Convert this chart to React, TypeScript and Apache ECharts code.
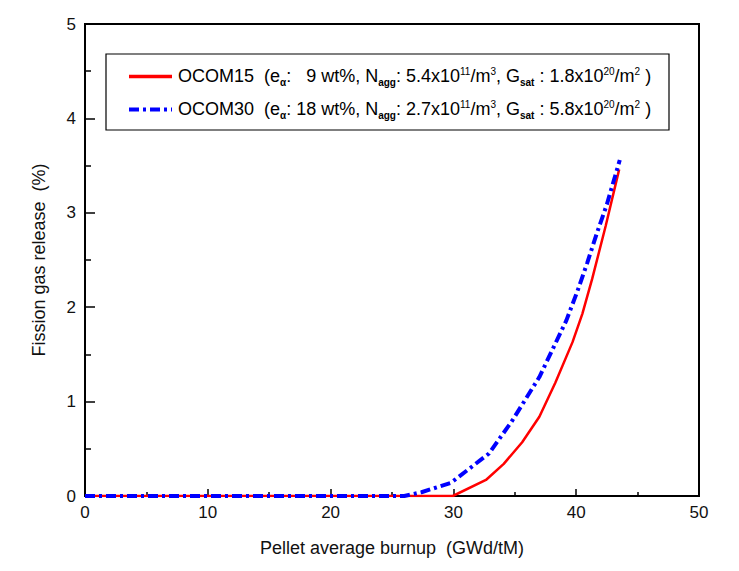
import React, { useEffect, useRef } from "react";
import * as echarts from "echarts";

const xTicks = [0, 10, 20, 30, 40, 50];
const yTicks = [0, 1, 2, 3, 4, 5];
const ocom15Burnup = [0, 5, 10, 15, 20, 25, 29.95, 32.65, 34.1, 35.6, 37.0, 38.3, 39.7, 40.5, 41.3, 42.4, 43.5];
const ocom15Fgr = [0, 0, 0, 0, 0, 0, 0, 0.17, 0.34, 0.57, 0.84, 1.2, 1.63, 1.93, 2.3, 2.86, 3.46];
const ocom30Burnup = [0, 5, 10, 15, 20, 26.0, 27.4, 29.8, 32.9, 34.8, 37.0, 38.1, 39.2, 40.1, 40.9, 41.7, 42.5, 43.55];
const ocom30Fgr = [0, 0, 0, 0, 0, 0, 0.04, 0.14, 0.45, 0.8, 1.26, 1.56, 1.86, 2.17, 2.47, 2.79, 3.09, 3.56];
const seriesNames = ["OCOM15", "OCOM30"];
const legendTexts = [
  "{n|OCOM15  (e}{sub|α}{n|:   9 wt%, N}{sub|agg}{n|: 5.4x10}{sup|11}{n|/m}{sup|3}{n|, G}{sub|sat}{n| : 1.8x10}{sup|20}{n|/m}{sup|2}{n| )}",
  "{n|OCOM30  (e}{sub|α}{n|: 18 wt%, N}{sub|agg}{n|: 2.7x10}{sup|11}{n|/m}{sup|3}{n|, G}{sub|sat}{n| : 5.8x10}{sup|20}{n|/m}{sup|2}{n| )}",
];

const FONT = "Liberation Sans, Arial, sans-serif";

export default function App() {
  const ref = useRef<HTMLDivElement>(null);
  useEffect(() => {
    if (!ref.current) return;
    const chart = echarts.init(ref.current, null, { renderer: "svg" });
    const pair = (xs: number[], ys: number[]) => xs.map((x, i) => [x, ys[i]]);
    const rich = {
      n: { fontSize: 18, fontFamily: FONT, color: "#111", lineHeight: 24 },
      sub: { fontSize: 10, fontFamily: FONT, color: "#111", fontWeight: "bold", padding: [12, 0, 0, 0], lineHeight: 24 },
      sup: { fontSize: 10, fontFamily: FONT, color: "#111", padding: [0, 0, 9, 0], lineHeight: 24 },
    };
    chart.setOption({
      animation: false,
      backgroundColor: "#fff",
      grid: {
        left: 85,
        right: 40,
        top: 24,
        bottom: 75,
        show: true,
        borderColor: "#000",
        borderWidth: 2,
        backgroundColor: "transparent",
      },
      xAxis: {
        type: "value",
        min: 0,
        max: 50,
        interval: 10,
        name: "Pellet average burnup  (GWd/tM)",
        nameLocation: "middle",
        nameGap: 43,
        nameTextStyle: { fontSize: 18, fontFamily: FONT, color: "#111" },
        axisLine: { show: true, lineStyle: { color: "#000", width: 2 } },
        axisTick: { show: true, inside: true, length: 7, lineStyle: { color: "#000", width: 1.5 } },
        minorTick: { show: true, splitNumber: 2, length: 4, lineStyle: { color: "#000", width: 1.5 } },
        splitLine: { show: false },
        axisLabel: {
          fontSize: 17,
          fontFamily: FONT,
          color: "#111",
          margin: 8,
          formatter: (v: number) => (xTicks.includes(v) ? String(v) : ""),
        },
      },
      yAxis: {
        type: "value",
        min: 0,
        max: 5,
        interval: 1,
        name: "Fission gas release  (%)",
        nameLocation: "middle",
        nameGap: 37,
        nameTextStyle: { fontSize: 18, fontFamily: FONT, color: "#111" },
        axisLine: { show: true, lineStyle: { color: "#000", width: 2 } },
        axisTick: { show: true, inside: true, length: 10, lineStyle: { color: "#000", width: 1.5 } },
        minorTick: { show: true, splitNumber: 2, length: 6, lineStyle: { color: "#000", width: 1.5 } },
        splitLine: { show: false },
        axisLabel: {
          fontSize: 17,
          fontFamily: FONT,
          color: "#111",
          margin: 9,
          formatter: (v: number) => (yTicks.includes(v) ? String(v) : ""),
        },
      },
      series: [
        {
          name: seriesNames[0],
          type: "line",
          data: pair(ocom15Burnup, ocom15Fgr),
          showSymbol: false,
          lineStyle: { color: "#ff0000", width: 2.5 },
          z: 2,
        },
        {
          name: seriesNames[1],
          type: "line",
          data: pair(ocom30Burnup, ocom30Fgr),
          showSymbol: false,
          lineStyle: { color: "#0000ff", width: 4, type: [10, 4, 3, 4] },
          z: 3,
        },
      ],
      graphic: [
        {
          type: "rect",
          shape: { x: 106, y: 54, width: 563, height: 76 },
          style: { fill: "#fff", stroke: "#000", lineWidth: 1.2 },
          z: 10,
        },
        {
          type: "line",
          shape: { x1: 129, y1: 76.5, x2: 172, y2: 76.5 },
          style: { stroke: "#ff0000", lineWidth: 3.5 },
          z: 11,
        },
        {
          type: "line",
          shape: { x1: 129, y1: 109.5, x2: 172, y2: 109.5 },
          style: { stroke: "#0000ff", lineWidth: 4, lineDash: [10, 4, 3, 4] },
          z: 11,
        },
        {
          type: "text",
          x: 178,
          y: 76,
          style: { text: legendTexts[0], rich, verticalAlign: "middle", align: "left" },
          z: 11,
        },
        {
          type: "text",
          x: 178,
          y: 109,
          style: { text: legendTexts[1], rich, verticalAlign: "middle", align: "left" },
          z: 11,
        },
      ],
    });
    return () => chart.dispose();
  }, []);
  return (
    <div
      ref={ref}
      style={{ position: "fixed", left: 0, top: 0, width: 739, height: 571, background: "#fff" }}
    />
  );
}
